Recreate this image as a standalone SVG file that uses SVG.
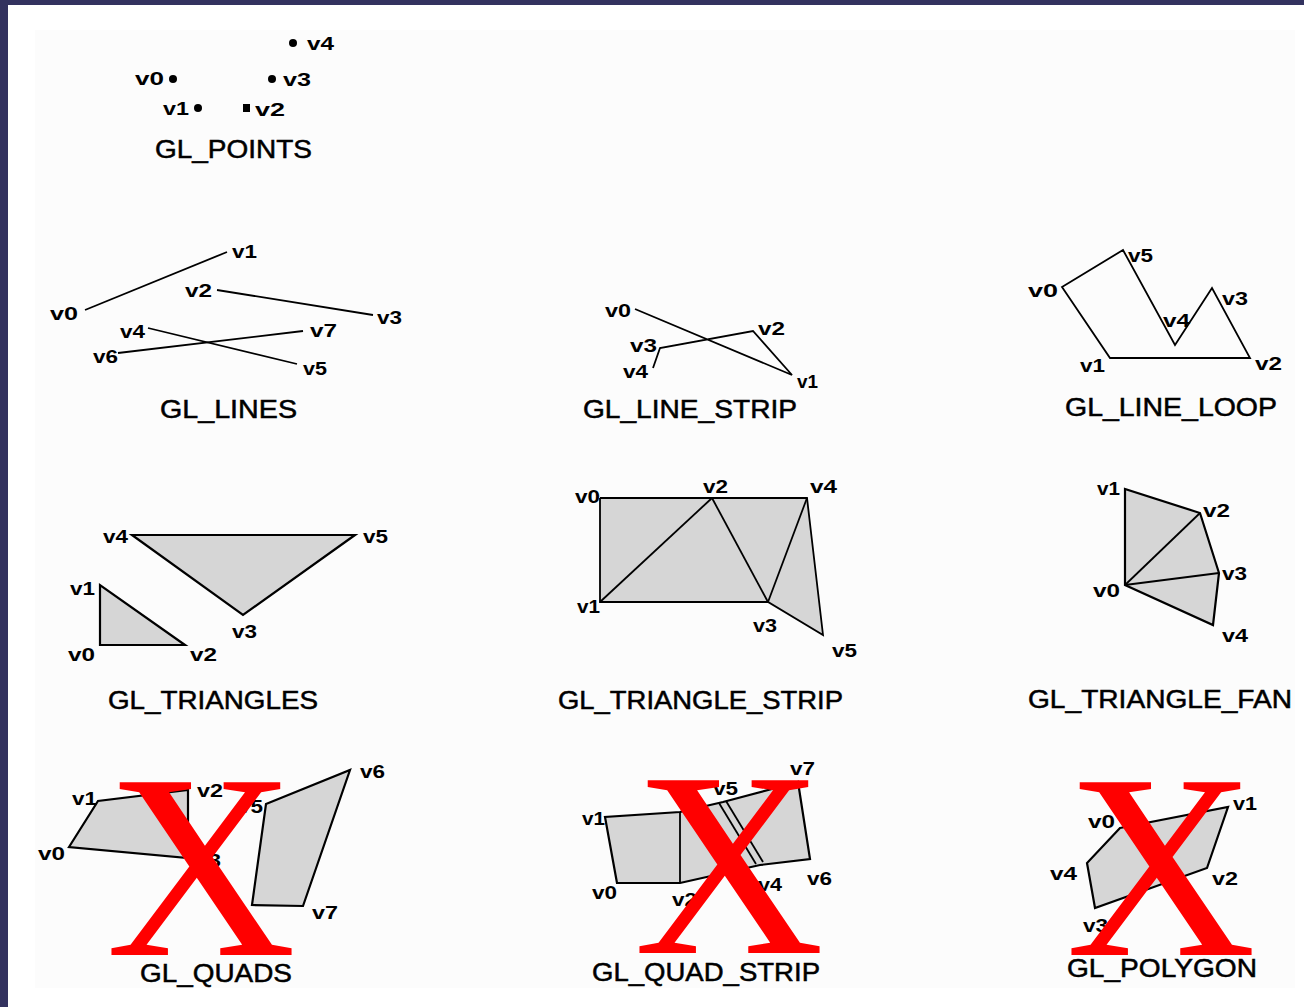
<svg xmlns="http://www.w3.org/2000/svg" width="1304" height="1007" viewBox="0 0 1304 1007">
<defs>
<style>
.ln{fill:none;stroke:#000;stroke-width:1.8;stroke-linejoin:miter}
.sh{fill:#d6d6d6;stroke:#000;stroke-width:2.2;stroke-linejoin:miter}
.lb{font-family:"Liberation Sans",Arial,sans-serif;font-weight:bold;font-size:19px;fill:#000}
.tt{font-family:"Liberation Sans",Arial,sans-serif;font-size:25px;fill:#000;stroke:#000;stroke-width:0.5}
.x{font-family:"Liberation Serif","Times New Roman",serif;font-size:264px;fill:#ff0000;text-anchor:middle}
</style>
</defs>
<rect x="0" y="0" width="1304" height="1007" fill="#33325f"/>
<rect x="8" y="5" width="1296" height="1002" fill="#ffffff"/>
<rect x="35" y="30" width="1260" height="958" fill="#fcfcfc"/>

<g id="gl-points">
<circle cx="293" cy="43" r="4"/>
<circle cx="173" cy="79" r="4"/>
<circle cx="272" cy="79" r="4"/>
<circle cx="198" cy="108" r="4"/>
<rect x="243" y="104" width="7" height="8"/>
<text class="lb" x="307" y="50" textLength="27" lengthAdjust="spacingAndGlyphs">v4</text>
<text class="lb" x="135" y="85" textLength="29" lengthAdjust="spacingAndGlyphs">v0</text>
<text class="lb" x="283" y="86" textLength="28" lengthAdjust="spacingAndGlyphs">v3</text>
<text class="lb" x="163" y="115" textLength="26" lengthAdjust="spacingAndGlyphs">v1</text>
<text class="lb" x="255" y="116" textLength="30" lengthAdjust="spacingAndGlyphs">v2</text>
<text class="tt" x="155" y="158" textLength="157" lengthAdjust="spacingAndGlyphs">GL_POINTS</text>
</g>

<g id="gl-lines">
<line class="ln" x1="85" y1="310" x2="227" y2="252"/>
<line class="ln" x1="217" y1="290" x2="373" y2="315"/>
<line class="ln" x1="148" y1="328" x2="297" y2="364"/>
<line class="ln" x1="118" y1="353" x2="303" y2="331"/>
<text class="lb" x="50" y="320" textLength="28" lengthAdjust="spacingAndGlyphs">v0</text>
<text class="lb" x="232" y="258" textLength="25" lengthAdjust="spacingAndGlyphs">v1</text>
<text class="lb" x="185" y="297" textLength="27" lengthAdjust="spacingAndGlyphs">v2</text>
<text class="lb" x="377" y="324" textLength="25" lengthAdjust="spacingAndGlyphs">v3</text>
<text class="lb" x="120" y="338" textLength="25" lengthAdjust="spacingAndGlyphs">v4</text>
<text class="lb" x="303" y="375" textLength="24" lengthAdjust="spacingAndGlyphs">v5</text>
<text class="lb" x="93" y="363" textLength="25" lengthAdjust="spacingAndGlyphs">v6</text>
<text class="lb" x="310" y="337" textLength="27" lengthAdjust="spacingAndGlyphs">v7</text>
<text class="tt" x="160" y="418" textLength="137" lengthAdjust="spacingAndGlyphs">GL_LINES</text>
</g>

<g id="gl-line-strip">
<polyline class="ln" points="635,309 792,375 753,331 660,348 653,368"/>
<text class="lb" x="605" y="317" textLength="26" lengthAdjust="spacingAndGlyphs">v0</text>
<text class="lb" x="797" y="388" textLength="21" lengthAdjust="spacingAndGlyphs">v1</text>
<text class="lb" x="758" y="335" textLength="27" lengthAdjust="spacingAndGlyphs">v2</text>
<text class="lb" x="630" y="352" textLength="27" lengthAdjust="spacingAndGlyphs">v3</text>
<text class="lb" x="623" y="378" textLength="25" lengthAdjust="spacingAndGlyphs">v4</text>
<text class="tt" x="583" y="418" textLength="214" lengthAdjust="spacingAndGlyphs">GL_LINE_STRIP</text>
</g>

<g id="gl-line-loop">
<polygon class="ln" points="1062,287 1110,358 1250,358 1212,288 1175,345 1123,250"/>
<text class="lb" x="1028" y="297" textLength="30" lengthAdjust="spacingAndGlyphs">v0</text>
<text class="lb" x="1080" y="372" textLength="25" lengthAdjust="spacingAndGlyphs">v1</text>
<text class="lb" x="1255" y="370" textLength="27" lengthAdjust="spacingAndGlyphs">v2</text>
<text class="lb" x="1222" y="305" textLength="26" lengthAdjust="spacingAndGlyphs">v3</text>
<text class="lb" x="1163" y="327" textLength="27" lengthAdjust="spacingAndGlyphs">v4</text>
<text class="lb" x="1128" y="262" textLength="25" lengthAdjust="spacingAndGlyphs">v5</text>
<text class="tt" x="1065" y="416" textLength="212" lengthAdjust="spacingAndGlyphs">GL_LINE_LOOP</text>
</g>

<g id="gl-triangles">
<polygon class="sh" points="132,535 355,535 243,615"/>
<polygon class="sh" points="100,585 100,645 185,645"/>
<text class="lb" x="68" y="661" textLength="27" lengthAdjust="spacingAndGlyphs">v0</text>
<text class="lb" x="70" y="595" textLength="25" lengthAdjust="spacingAndGlyphs">v1</text>
<text class="lb" x="190" y="661" textLength="27" lengthAdjust="spacingAndGlyphs">v2</text>
<text class="lb" x="232" y="638" textLength="25" lengthAdjust="spacingAndGlyphs">v3</text>
<text class="lb" x="103" y="543" textLength="25" lengthAdjust="spacingAndGlyphs">v4</text>
<text class="lb" x="363" y="543" textLength="25" lengthAdjust="spacingAndGlyphs">v5</text>
<text class="tt" x="108" y="709" textLength="210" lengthAdjust="spacingAndGlyphs">GL_TRIANGLES</text>
</g>

<g id="gl-triangle-strip">
<polygon points="600,498 807,498 823,635 768,602 600,602" fill="#d6d6d6"/>
<polyline class="ln" points="600,498 807,498 823,635 768,602 600,602 600,498" stroke-width="2.2"/>
<line class="ln" x1="600" y1="602" x2="712" y2="498" stroke-width="2.2"/>
<line class="ln" x1="712" y1="498" x2="768" y2="602" stroke-width="2.2"/>
<line class="ln" x1="768" y1="602" x2="807" y2="498" stroke-width="2.2"/>
<text class="lb" x="575" y="503" textLength="25" lengthAdjust="spacingAndGlyphs">v0</text>
<text class="lb" x="577" y="613" textLength="23" lengthAdjust="spacingAndGlyphs">v1</text>
<text class="lb" x="703" y="493" textLength="25" lengthAdjust="spacingAndGlyphs">v2</text>
<text class="lb" x="753" y="632" textLength="24" lengthAdjust="spacingAndGlyphs">v3</text>
<text class="lb" x="810" y="493" textLength="27" lengthAdjust="spacingAndGlyphs">v4</text>
<text class="lb" x="832" y="657" textLength="25" lengthAdjust="spacingAndGlyphs">v5</text>
<text class="tt" x="558" y="709" textLength="285" lengthAdjust="spacingAndGlyphs">GL_TRIANGLE_STRIP</text>
</g>

<g id="gl-triangle-fan">
<polygon class="sh" points="1125,585 1125,489 1200,513 1219,573 1213,625"/>
<line class="ln" x1="1125" y1="585" x2="1200" y2="513" stroke-width="2.2"/>
<line class="ln" x1="1125" y1="585" x2="1219" y2="573" stroke-width="2.2"/>
<text class="lb" x="1093" y="597" textLength="27" lengthAdjust="spacingAndGlyphs">v0</text>
<text class="lb" x="1097" y="495" textLength="23" lengthAdjust="spacingAndGlyphs">v1</text>
<text class="lb" x="1203" y="517" textLength="27" lengthAdjust="spacingAndGlyphs">v2</text>
<text class="lb" x="1222" y="580" textLength="25" lengthAdjust="spacingAndGlyphs">v3</text>
<text class="lb" x="1222" y="642" textLength="26" lengthAdjust="spacingAndGlyphs">v4</text>
<text class="tt" x="1028" y="708" textLength="264" lengthAdjust="spacingAndGlyphs">GL_TRIANGLE_FAN</text>
</g>

<g id="gl-quads">
<polygon class="sh" points="69,847 98,801 188,790 188,858"/>
<polygon class="sh" points="252,905 266,804 350,770 303,906"/>
<text class="lb" x="38" y="860" textLength="27" lengthAdjust="spacingAndGlyphs">v0</text>
<text class="lb" x="72" y="805" textLength="25" lengthAdjust="spacingAndGlyphs">v1</text>
<text class="lb" x="197" y="797" textLength="26" lengthAdjust="spacingAndGlyphs">v2</text>
<text class="lb" x="196" y="867" textLength="25" lengthAdjust="spacingAndGlyphs">v3</text>
<text class="lb" x="238" y="813" textLength="25" lengthAdjust="spacingAndGlyphs">v5</text>
<text class="lb" x="360" y="778" textLength="25" lengthAdjust="spacingAndGlyphs">v6</text>
<text class="lb" x="312" y="919" textLength="26" lengthAdjust="spacingAndGlyphs">v7</text>
<text class="tt" x="140" y="982" textLength="152" lengthAdjust="spacingAndGlyphs">GL_QUADS</text>
</g>

<g id="gl-quad-strip">
<polygon class="sh" points="617,883 605,817 680,812 723,802 798,782 810,859 760,865 680,883"/>
<line class="ln" x1="680" y1="812" x2="680" y2="883" stroke-width="2"/>
<line class="ln" x1="719" y1="803" x2="756" y2="864" stroke-width="1.6"/>
<line class="ln" x1="726" y1="801" x2="763" y2="862" stroke-width="1.6"/>
<text class="lb" x="592" y="899" textLength="25" lengthAdjust="spacingAndGlyphs">v0</text>
<text class="lb" x="582" y="825" textLength="23" lengthAdjust="spacingAndGlyphs">v1</text>
<text class="lb" x="672" y="906" textLength="25" lengthAdjust="spacingAndGlyphs">v2</text>
<text class="lb" x="758" y="891" textLength="24" lengthAdjust="spacingAndGlyphs">v4</text>
<text class="lb" x="713" y="795" textLength="25" lengthAdjust="spacingAndGlyphs">v5</text>
<text class="lb" x="807" y="885" textLength="25" lengthAdjust="spacingAndGlyphs">v6</text>
<text class="lb" x="790" y="775" textLength="25" lengthAdjust="spacingAndGlyphs">v7</text>
<text class="tt" x="592" y="981" textLength="228" lengthAdjust="spacingAndGlyphs">GL_QUAD_STRIP</text>
</g>

<g id="gl-polygon">
<polygon class="sh" points="1120,828 1228,807 1207,868 1095,908 1087,863"/>
<text class="lb" x="1088" y="828" textLength="27" lengthAdjust="spacingAndGlyphs">v0</text>
<text class="lb" x="1233" y="810" textLength="24" lengthAdjust="spacingAndGlyphs">v1</text>
<text class="lb" x="1212" y="885" textLength="26" lengthAdjust="spacingAndGlyphs">v2</text>
<text class="lb" x="1083" y="932" textLength="25" lengthAdjust="spacingAndGlyphs">v3</text>
<text class="lb" x="1050" y="880" textLength="27" lengthAdjust="spacingAndGlyphs">v4</text>
<text class="tt" x="1067" y="977" textLength="190" lengthAdjust="spacingAndGlyphs">GL_POLYGON</text>
</g>

<g id="deprecated-marks">
<text class="x" x="201" y="955">X</text>
<text class="x" x="729" y="953">X</text>
<text class="x" x="1161" y="955">X</text>
</g>
</svg>
